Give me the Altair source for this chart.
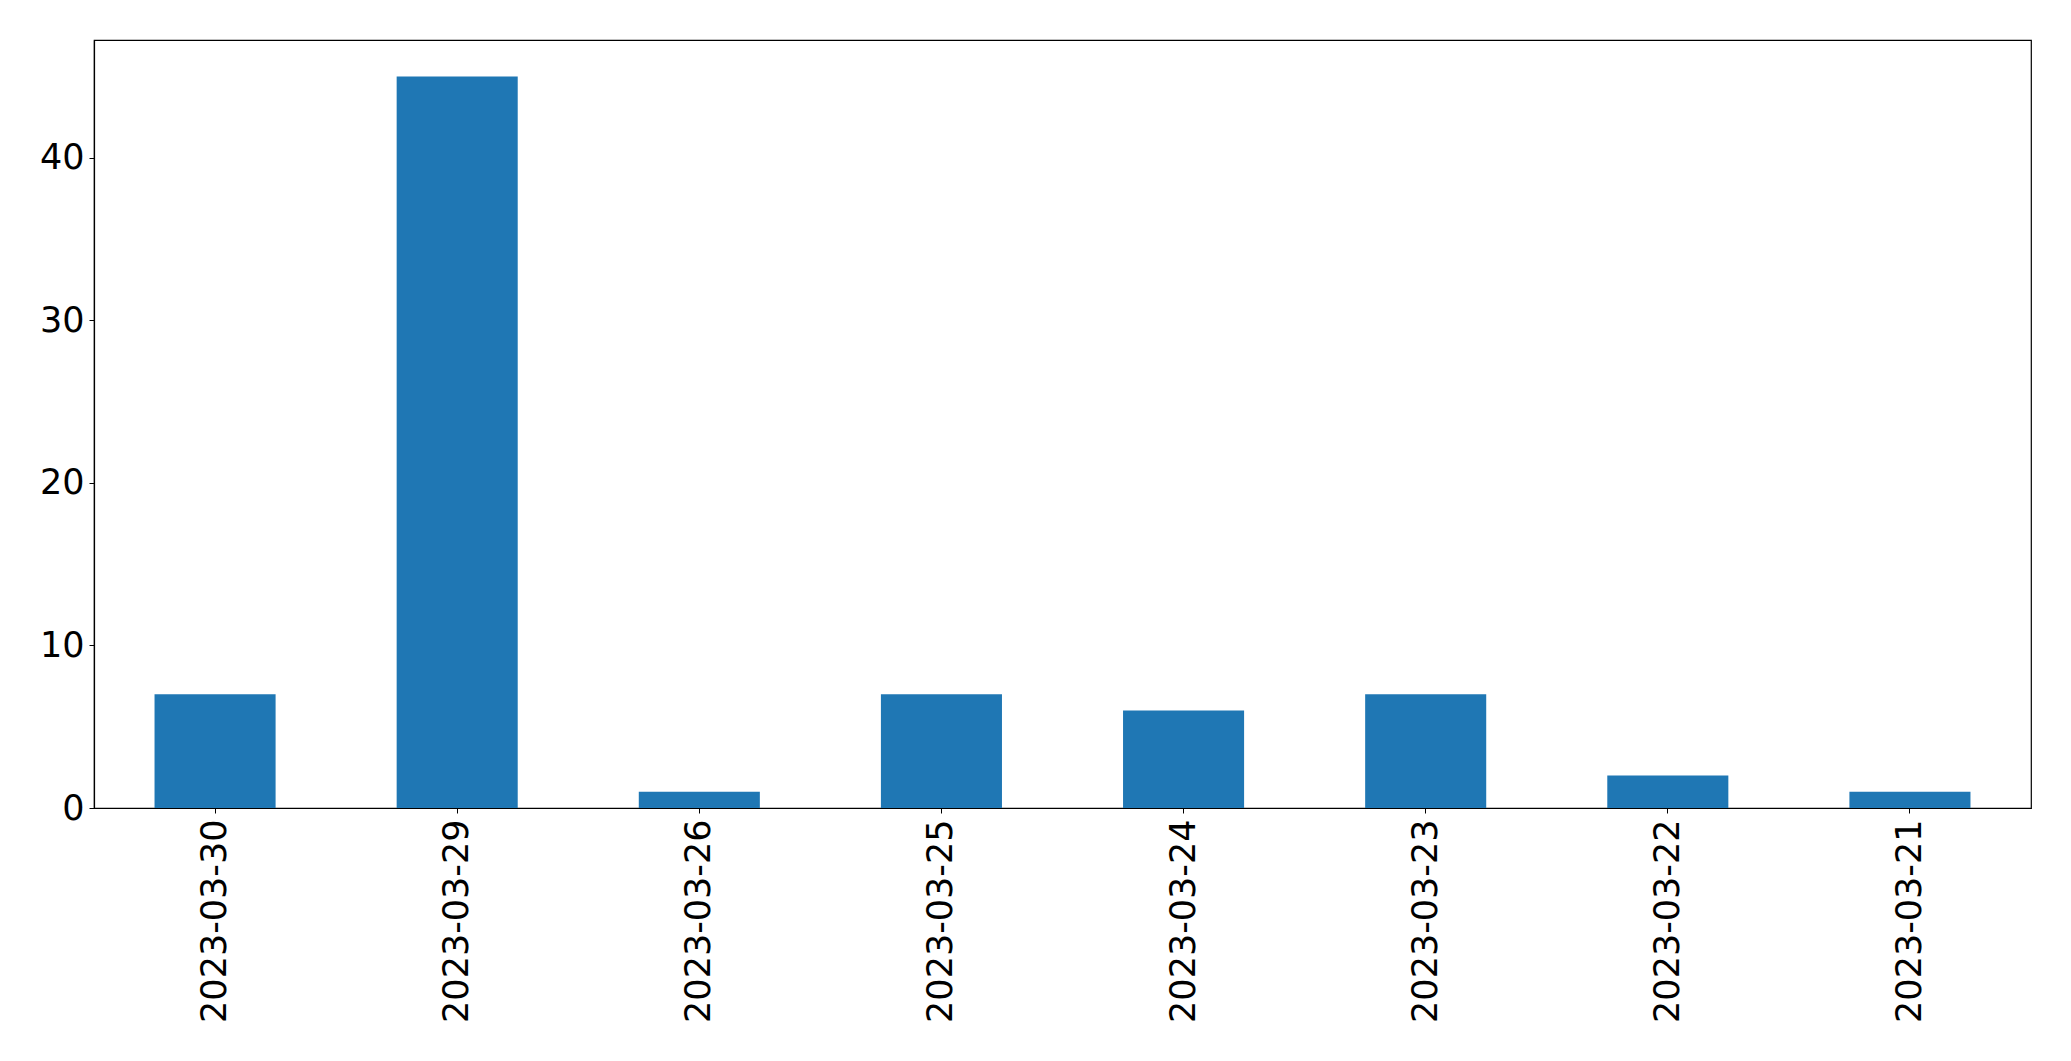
import altair as alt
import pandas as pd

dates = ["2023-03-30", "2023-03-29", "2023-03-26", "2023-03-25",
         "2023-03-24", "2023-03-23", "2023-03-22", "2023-03-21"]
counts = [7, 45, 1, 7, 6, 7, 2, 1]

df = pd.DataFrame({"date": dates, "count": counts})

chart = alt.Chart(df).mark_bar(color="#1f77b4").encode(
    x=alt.X("date:N", sort=None, title=None,
            scale=alt.Scale(paddingInner=0.5, paddingOuter=0.25),
            axis=alt.Axis(labelAngle=270, labelFontSize=35, labelFont="DejaVu Sans",
                          labelColor="black", tickColor="black", tickSize=5,
                          labelLimit=0, labelPadding=6, domainColor="black",
                          domainWidth=1.2)),
    y=alt.Y("count:Q", title=None,
            scale=alt.Scale(domain=[0, 47.25], nice=False, zero=True),
            axis=alt.Axis(values=[0, 10, 20, 30, 40], labelFontSize=35,
                          labelFont="DejaVu Sans", labelColor="black",
                          tickColor="black", tickSize=5, labelPadding=5,
                          grid=False, domainColor="black", domainWidth=1.2)),
).properties(
    width=1937, height=768,
    autosize=alt.AutoSizeParams(type="none"),
    padding={"left": 86, "top": 32, "right": 30, "bottom": 240},
).configure_view(
    stroke="black", strokeWidth=1.2
)

chart.save("out.html", embed_options={"renderer": "svg", "actions": False})
